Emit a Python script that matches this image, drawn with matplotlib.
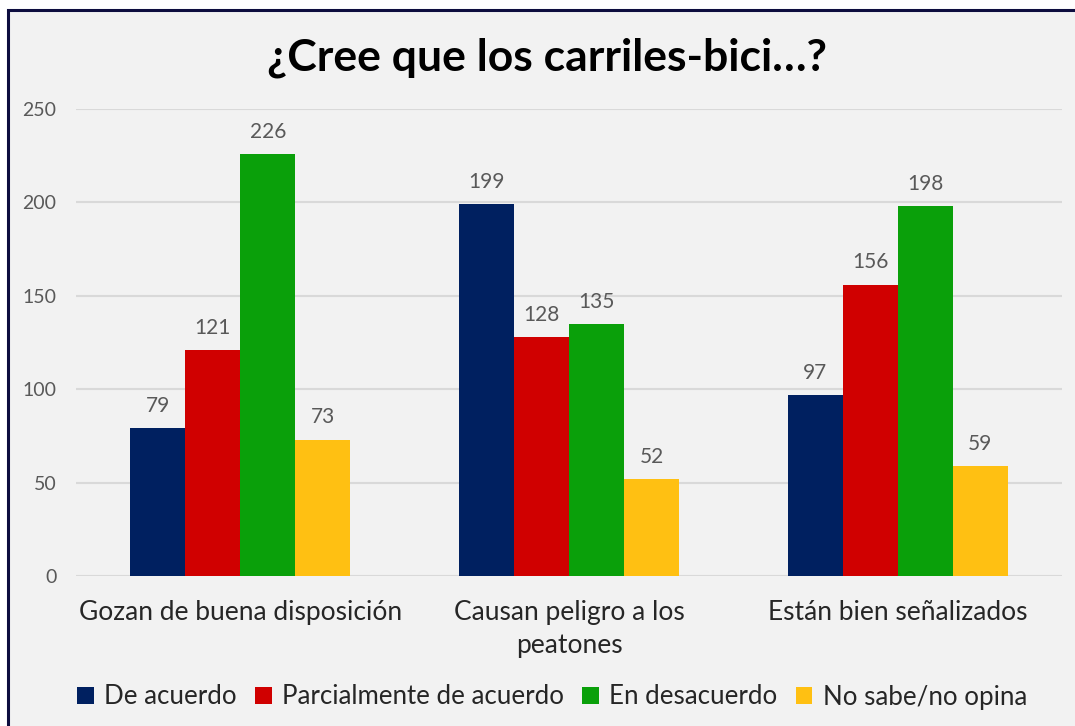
import matplotlib
matplotlib.use("Agg")
import matplotlib.pyplot as plt
import numpy as np
from matplotlib.patches import Rectangle

plt.rcParams["font.family"] = ["Lato", "DejaVu Sans"]

categories = ["Gozan de buena disposición", "Causan peligro a los\npeatones", "Están bien señalizados"]
series = ["De acuerdo", "Parcialmente de acuerdo", "En desacuerdo", "No sabe/no opina"]
de_acuerdo = [79, 199, 97]
parcial = [121, 128, 156]
desacuerdo = [226, 135, 198]
no_sabe = [73, 52, 59]
colors = ["#002060", "#D00000", "#0AA00A", "#FFC012"]
yticks = [0, 50, 100, 150, 200, 250]

values = [de_acuerdo, parcial, desacuerdo, no_sabe]

fig = plt.figure(figsize=(10.75, 7.26), dpi=100)
fig.patch.set_facecolor("white")
# chart frame: only top/left edge visible in the crop
frame = Rectangle((8 / 1075, -0.1), 1.2, 1 - 10 / 726 + 0.1, transform=fig.transFigure,
                  facecolor="#F2F2F2", edgecolor="#0D0D3F", linewidth=2.2, zorder=-10)
fig.patches.append(frame)

ax = fig.add_axes([76 / 1075, 1 - 576 / 726, 986 / 1075, 467 / 726])
ax.set_facecolor("none")

x = np.arange(len(categories))
w = 0.1674
for i, (name, vals) in enumerate(zip(series, values)):
    pos = x + (i - 1.5) * w
    bars = ax.bar(pos, vals, width=w, color=colors[i], label=name, zorder=3)
    for b, v in zip(bars, vals):
        ax.text(b.get_x() + b.get_width() / 2, v + 6.5, str(v), ha="center", va="bottom",
                fontsize=15, color="#595959")

ax.set_xlim(-0.5, 2.5)
ax.set_ylim(0, 250)
ax.set_yticks(yticks)
ax.set_yticklabels([str(t) for t in yticks], fontsize=14, color="#595959")
ax.set_xticks(x)
ax.set_xticklabels(categories, fontsize=19, color="#262626", linespacing=1.4)
ax.tick_params(axis="both", length=0)
ax.tick_params(axis="y", pad=14)
ax.tick_params(axis="x", pad=17)
ax.grid(axis="y", color="#D9D9D9", linewidth=1.5, zorder=0)
for s in ax.spines.values():
    s.set_visible(False)

fig.text(547 / 1075, 1 - 58 / 726, "¿Cree que los carriles-bici…?", ha="center", va="center",
         fontsize=32, fontweight="bold", color="#000000")

fig.legend(loc="center", bbox_to_anchor=(552 / 1075, 1 - 697 / 726), ncol=4, frameon=False,
           fontsize=18.6, handlelength=0.65, handleheight=0.65, handletextpad=0.4,
           columnspacing=0.7, labelcolor="#262626")

fig.savefig("out.png", dpi=100, facecolor=fig.get_facecolor())
